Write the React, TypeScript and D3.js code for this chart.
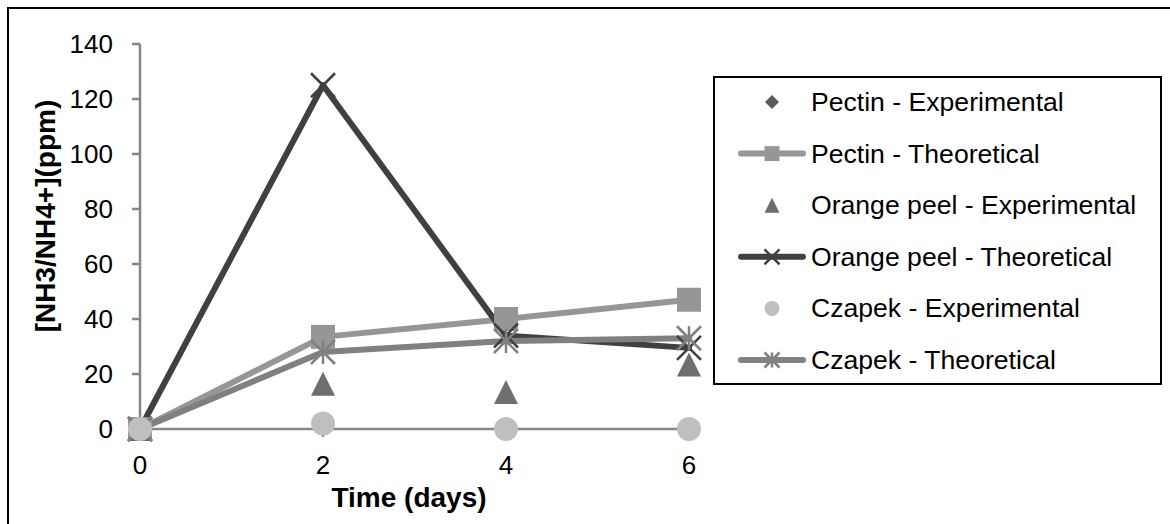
import React from "react";
import * as d3 from "d3";

const days = [0, 2, 4, 6];
const pectinExp = [0, 2.5, 0, 0.5];
const pectinTheo = [0, 33.5, 40, 47];
const orangeExp = [0, 16.5, 13.5, 23.5];
const orangeTheo = [0, 125, 34, 29.5];
const czapekExp = [0, 2, 0, 0];
const czapekTheo = [0, 28, 32, 33];
const yTicks = [0, 20, 40, 60, 80, 100, 120, 140];
const xTicks = [0, 2, 4, 6];

type Series = {
  name: string;
  values: number[];
  color: string;
  line: boolean;
  marker: "diamond" | "square" | "triangle" | "x" | "circle" | "star";
};

const series: Series[] = [
  { name: "Pectin - Experimental", values: pectinExp, color: "#595959", line: false, marker: "diamond" },
  { name: "Pectin - Theoretical", values: pectinTheo, color: "#969696", line: true, marker: "square" },
  { name: "Orange peel - Experimental", values: orangeExp, color: "#6e6e6e", line: false, marker: "triangle" },
  { name: "Orange peel - Theoretical", values: orangeTheo, color: "#404040", line: true, marker: "x" },
  { name: "Czapek - Experimental", values: czapekExp, color: "#bfbfbf", line: false, marker: "circle" },
  { name: "Czapek - Theoretical", values: czapekTheo, color: "#808080", line: true, marker: "star" },
];

function Marker({ kind, x, y, size, color }: { kind: Series["marker"]; x: number; y: number; size: number; color: string }) {
  const h = size / 2;
  switch (kind) {
    case "diamond":
      return <path d={`M${x},${y - h}L${x + h},${y}L${x},${y + h}L${x - h},${y}Z`} fill={color} />;
    case "square":
      return <rect x={x - h} y={y - h} width={size} height={size} fill={color} />;
    case "triangle":
      return <path d={`M${x},${y - h}L${x + h},${y + h}L${x - h},${y + h}Z`} fill={color} />;
    case "circle":
      return <circle cx={x} cy={y} r={h} fill={color} />;
    case "x":
      return (
        <path d={`M${x - h},${y - h}L${x + h},${y + h}M${x - h},${y + h}L${x + h},${y - h}`} stroke={color} strokeWidth={2.5} fill="none" />
      );
    case "star":
      return (
        <path
          d={`M${x - h},${y - h}L${x + h},${y + h}M${x - h},${y + h}L${x + h},${y - h}M${x},${y - h}L${x},${y + h}`}
          stroke={color}
          strokeWidth={2.5}
          fill="none"
        />
      );
  }
}

export default function App() {
  const x = d3.scaleLinear().domain([0, 6]).range([140, 689]);
  const y = d3.scaleLinear().domain([0, 140]).range([429, 44]);
  const line = d3
    .line<number>()
    .x((_, i) => x(days[i]))
    .y((v) => y(v));
  const font = "Liberation Sans, Arial, sans-serif";
  const markerOrder = [0, 1, 2, 3, 5, 4];
  const legendY = (i: number) => 102 + i * 51.6;

  return (
    <svg width={1170} height={524} style={{ position: "absolute", left: 0, top: 0 }} fontFamily={font}>
      <rect x={0} y={0} width={1170} height={524} fill="#fff" />
      <rect x={8} y={8} width={1200} height={560} fill="none" stroke="#000" strokeWidth={2} />

      {/* axes */}
      <line x1={x(0)} x2={x(0)} y1={y(140)} y2={y(0)} stroke="#868686" strokeWidth={2.5} />
      <line x1={x(0)} x2={x(6)} y1={y(0)} y2={y(0)} stroke="#868686" strokeWidth={2.5} />
      {yTicks.map((t) => (
        <g key={"y" + t}>
          <line x1={x(0) - 8} x2={x(0)} y1={y(t)} y2={y(t)} stroke="#868686" strokeWidth={2.5} />
          <text x={113} y={y(t) + 9} textAnchor="end" fontSize={26} fill="#000">
            {t}
          </text>
        </g>
      ))}
      {xTicks.map((t) => (
        <g key={"x" + t}>
          <line x1={x(t)} x2={x(t)} y1={y(0)} y2={y(0) + 8} stroke="#868686" strokeWidth={2.5} />
          <text x={x(t)} y={474} textAnchor="middle" fontSize={26} fill="#000">
            {t}
          </text>
        </g>
      ))}
      <text x={409} y={507} textAnchor="middle" fontSize={28} fontWeight="bold" fill="#000">
        Time (days)
      </text>
      <text
        transform={`translate(55,216) rotate(-90)`}
        textAnchor="middle"
        fontSize={28}
        fontWeight="bold"
        fill="#000"
      >
        [NH3/NH4+](ppm)
      </text>

      {/* lines */}
      {series.map((s, i) =>
        s.line ? (
          <path key={"l" + i} d={line(s.values) || ""} fill="none" stroke={s.color} strokeWidth={6} strokeLinejoin="round" strokeLinecap="round" />
        ) : null
      )}
      {/* markers */}
      {markerOrder.map((si) => {
        const s = series[si];
        const size = s.marker === "diamond" ? 20 : 24;
        return (
          <g key={"m" + si}>
            {s.values.map((v, j) => (
              <Marker key={j} kind={s.marker} x={x(days[j])} y={y(v)} size={size} color={s.color} />
            ))}
          </g>
        );
      })}

      {/* legend */}
      <rect x={714} y={77} width={447} height={307} fill="#fff" stroke="#000" strokeWidth={2} />
      {series.map((s, i) => {
        const cy = legendY(i);
        const lsize = s.marker === "diamond" ? 14 : 15;
        return (
          <g key={"lg" + i}>
            {s.line ? <line x1={741} x2={803} y1={cy} y2={cy} stroke={s.color} strokeWidth={6} strokeLinecap="round" /> : null}
            <Marker kind={s.marker} x={772} y={cy} size={lsize} color={s.color} />
            <text x={811} y={cy + 9} fontSize={26.6} fill="#000">
              {s.name}
            </text>
          </g>
        );
      })}
    </svg>
  );
}
